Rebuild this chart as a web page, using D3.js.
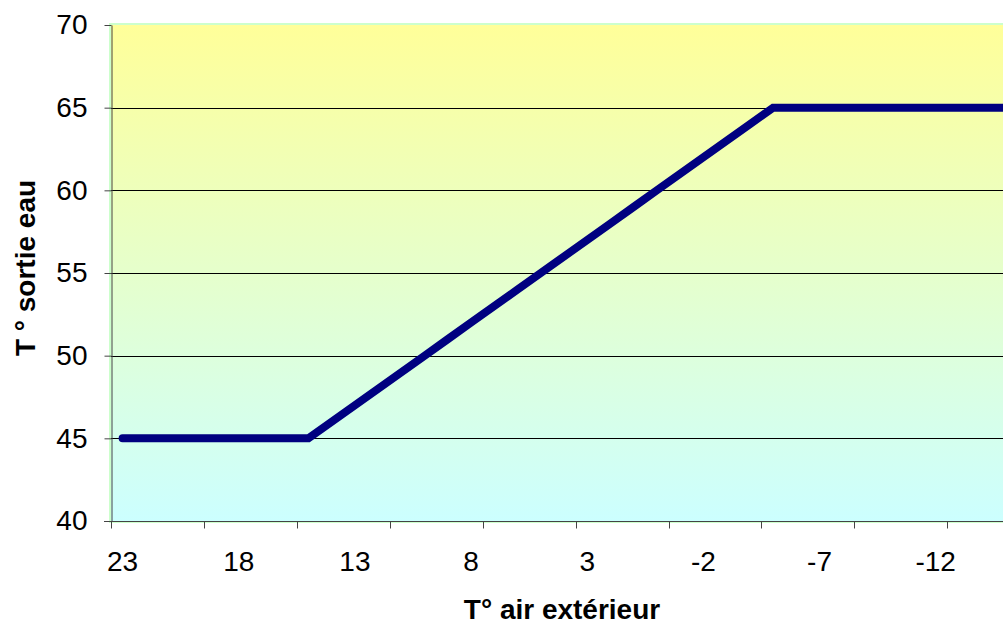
<!DOCTYPE html>
<html>
<head>
<meta charset="utf-8">
<script src="https://cdn.jsdelivr.net/npm/d3@7"></script>
<style>
  html, body { margin: 0; padding: 0; background: #fff; }
  svg { display: block; font-family: "Liberation Sans", Arial, sans-serif; }
</style>
</head>
<body>
<div id="chart"></div>
<script>
// outdoor temperature categories (°C), one per degree
const temps = [23, 22, 21, 20, 19, 18, 17, 16, 15, 14, 13, 12, 11, 10, 9, 8, 7, 6, 5, 4,
  3, 2, 1, 0, -1, -2, -3, -4, -5, -6, -7, -8, -9, -10, -11, -12, -13, -14, -15];
// water outlet temperature (°C)
const waterOut = [45, 45, 45, 45, 45, 45, 45, 45, 45, 46, 47, 48, 49, 50, 51, 52, 53, 54, 55, 56,
  57, 58, 59, 60, 61, 62, 63, 64, 65, 65, 65, 65, 65, 65, 65, 65, 65, 65, 65];
const yTicks = [40, 45, 50, 55, 60, 65, 70];
const labelTemps = [23, 18, 13, 8, 3, -2, -7, -12];

const width = 1003, height = 624;
const plotLeft = 111, plotTop = 25, plotBottom = 521, plotRight = 1017;
const fontSize = 28;

const svg = d3.select('#chart').append('svg')
  .attr('width', width)
  .attr('height', height);

const defs = svg.append('defs');
const grad = defs.append('linearGradient')
  .attr('id', 'bg')
  .attr('x1', 0).attr('y1', 0).attr('x2', 0).attr('y2', 1);
grad.append('stop').attr('offset', '0%').attr('stop-color', '#FFFF99');
grad.append('stop').attr('offset', '100%').attr('stop-color', '#CCFFFF');

const x = d3.scaleBand().domain(temps).range([plotLeft, plotRight]);
const y = d3.scaleLinear().domain([40, 70]).range([plotBottom, plotTop]);

// plot area
svg.append('rect')
  .attr('x', plotLeft - 1).attr('y', plotTop - 1)
  .attr('width', plotRight - plotLeft + 2).attr('height', plotBottom - plotTop + 2)
  .attr('fill', 'url(#bg)')
  .attr('stroke', '#CCFFCC')
  .attr('stroke-width', 2);

// gridlines
svg.append('g')
  .selectAll('line')
  .data(yTicks.filter(d => d > 40 && d < 70))
  .join('line')
  .attr('x1', plotLeft).attr('x2', plotRight)
  .attr('y1', d => Math.round(y(d)) + 0.5).attr('y2', d => Math.round(y(d)) + 0.5)
  .attr('stroke', '#000')
  .attr('stroke-width', 1);

// y axis
const yAxis = svg.append('g')
  .attr('transform', `translate(${plotLeft + 0.5},0)`)
  .call(d3.axisLeft(y).tickValues(yTicks).tickSize(7).tickPadding(17).tickSizeOuter(0));
yAxis.select('.domain').attr('stroke', '#444');
yAxis.selectAll('.tick line').attr('stroke', '#444');
yAxis.selectAll('.tick text')
  .attr('font-size', fontSize)
  .attr('font-family', '"Liberation Sans", Arial, sans-serif')
  .attr('fill', '#000');

// x axis line and ticks (tick marks every 4 categories)
const xAxis = svg.append('g').attr('transform', `translate(0,${plotBottom + 0.5})`);
xAxis.append('line')
  .attr('x1', plotLeft - 7).attr('x2', width)
  .attr('stroke', '#444');
xAxis.selectAll('line.tk')
  .data(temps.filter((d, i) => i % 4 === 0))
  .join('line')
  .attr('class', 'tk')
  .attr('x1', d => Math.round(x(d)) + 0.5).attr('x2', d => Math.round(x(d)) + 0.5)
  .attr('y1', 0).attr('y2', 7)
  .attr('stroke', '#444');

// x labels every 5 categories
const xLabels = svg.append('g')
  .attr('transform', `translate(0,${plotBottom})`)
  .call(d3.axisBottom(x).tickValues(labelTemps).tickSize(0).tickPadding(30));
xLabels.select('.domain').remove();
xLabels.selectAll('.tick text')
  .attr('font-size', fontSize)
  .attr('font-family', '"Liberation Sans", Arial, sans-serif')
  .attr('fill', '#000');

// curve
const line = d3.line()
  .x((d, i) => x(temps[i]) + x.bandwidth() / 2)
  .y(d => y(d));
svg.append('path')
  .datum(waterOut)
  .attr('d', line)
  .attr('fill', 'none')
  .attr('stroke', '#000080')
  .attr('stroke-width', 8)
  .attr('stroke-linejoin', 'miter')
  .attr('stroke-linecap', 'round');

// axis titles
svg.append('text')
  .attr('x', 562).attr('y', 619)
  .attr('text-anchor', 'middle')
  .attr('font-size', fontSize)
  .attr('font-weight', 'bold')
  .text('T° air extérieur');

svg.append('text')
  .attr('transform', 'translate(35,268) rotate(-90)')
  .attr('text-anchor', 'middle')
  .attr('font-size', fontSize)
  .attr('font-weight', 'bold')
  .text('T ° sortie eau');
</script>
</body>
</html>
